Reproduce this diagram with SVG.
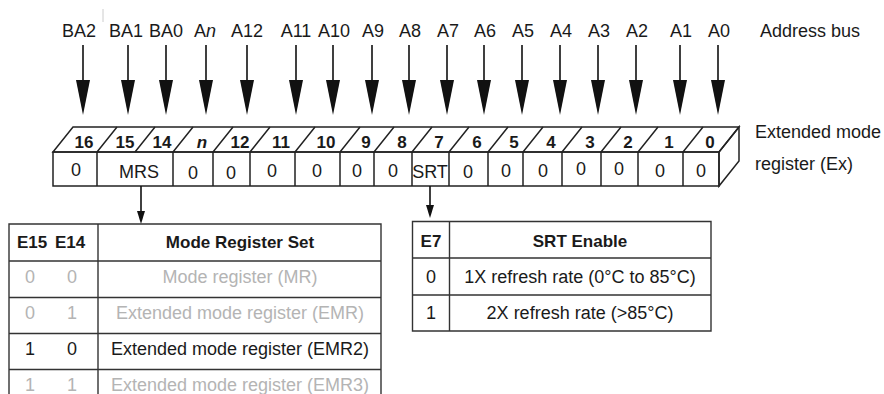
<svg xmlns="http://www.w3.org/2000/svg" width="884" height="394" viewBox="0 0 884 394">
<style>
text{font-family:"Liberation Sans",Arial,sans-serif;fill:#1a1a1a}
.lbl{font-size:18px;text-anchor:middle}
.lblL{font-size:18px}
.top{font-size:17px;font-weight:bold;text-anchor:middle}
.cell{font-size:18px;text-anchor:middle}
.tbl{font-size:18px;text-anchor:middle}
.hdr{font-size:17px;font-weight:bold;text-anchor:middle}
.dim{fill:#b4b4b4}
.ln{stroke:#222;stroke-width:1.5;fill:none}
.tl{stroke:#333;stroke-width:1.4;fill:none}
.shaft{stroke:#111;stroke-width:1.6}
.head{fill:#111}
</style>
<rect width="884" height="394" fill="#fff"/>

<g id="address-labels">
<text class="lbl" x="79" y="37">BA2</text>
<line x1="103" y1="9" x2="103" y2="22" stroke="#ccc" stroke-width="1"/>
<text class="lbl" x="126" y="37">BA1</text>
<text class="lbl" x="166" y="37">BA0</text>
<text class="lbl" x="205" y="37">A<tspan font-style="italic">n</tspan></text>
<text class="lbl" x="247" y="37">A12</text>
<text class="lbl" x="296" y="37">A11</text>
<text class="lbl" x="334" y="37">A10</text>
<text class="lbl" x="373" y="37">A9</text>
<text class="lbl" x="410" y="37">A8</text>
<text class="lbl" x="448" y="37">A7</text>
<text class="lbl" x="485" y="37">A6</text>
<text class="lbl" x="523" y="37">A5</text>
<text class="lbl" x="561" y="37">A4</text>
<text class="lbl" x="599" y="37">A3</text>
<text class="lbl" x="637" y="37">A2</text>
<text class="lbl" x="681" y="37">A1</text>
<text class="lbl" x="719" y="37">A0</text>
<text class="lblL" x="760" y="37">Address bus</text>
</g>

<g id="register">
<polygon class="ln" points="53,152 73,127 739,127 719,152"/>
<polygon class="ln" points="719,152 739,127 739,161 719,186"/>
<rect class="ln" x="53" y="152" width="666" height="34"/>
<g class="ln">
<path d="M97,152 L117,127 M135,152 L155,127 M173,152 L193,127 M213,152 L233,127 M250,152 L270,127 M295,152 L315,127 M340,152 L360,127 M374,152 L394,127 M412,152 L432,127 M449,152 L469,127 M488,152 L508,127 M523,152 L543,127 M562,152 L582,127 M601,152 L621,127 M638,152 L658,127 M683,152 L703,127"/>
<path d="M97,152 V186 M173,152 V186 M213,152 V186 M250,152 V186 M295,152 V186 M340,152 V186 M374,152 V186 M412,152 V186 M449,152 V186 M488,152 V186 M523,152 V186 M562,152 V186 M601,152 V186 M638,152 V186 M683,152 V186"/>
</g>
<g id="bit-numbers">
<text class="top" x="84" y="148">16</text>
<text class="top" x="125" y="148">15</text>
<text class="top" x="162" y="148">14</text>
<text class="top" x="202" y="148" font-style="italic">n</text>
<text class="top" x="240" y="148">12</text>
<text class="top" x="281" y="148">11</text>
<text class="top" x="326" y="148">10</text>
<text class="top" x="366" y="148">9</text>
<text class="top" x="402" y="148">8</text>
<text class="top" x="439" y="148">7</text>
<text class="top" x="477" y="148">6</text>
<text class="top" x="514" y="148">5</text>
<text class="top" x="551" y="148">4</text>
<text class="top" x="590" y="148">3</text>
<text class="top" x="628" y="148">2</text>
<text class="top" x="669" y="148">1</text>
<text class="top" x="710" y="148">0</text>
</g>
<g id="bit-values">
<text class="cell" x="76" y="176">0</text>
<text class="cell" x="139" y="178">MRS</text>
<text class="cell" x="193" y="179">0</text>
<text class="cell" x="231" y="179">0</text>
<text class="cell" x="272" y="177">0</text>
<text class="cell" x="317" y="177">0</text>
<text class="cell" x="357" y="177">0</text>
<text class="cell" x="393" y="177">0</text>
<text class="cell" x="430" y="178">SRT</text>
<text class="cell" x="468" y="178">0</text>
<text class="cell" x="506" y="177">0</text>
<text class="cell" x="543" y="177">0</text>
<text class="cell" x="581" y="175">0</text>
<text class="cell" x="619" y="175">0</text>
<text class="cell" x="660" y="177">0</text>
<text class="cell" x="701" y="177">0</text>
</g>
</g>

<g id="register-caption">
<text class="lblL" x="755" y="138">Extended mode</text>
<text class="lblL" x="755" y="170">register (Ex)</text>
</g>

<g id="connectors">
<g class="shaft">
<path d="M83,45 V82 M128,45 V82 M166,45 V82 M206,45 V82 M247,45 V82 M296,45 V82 M333,45 V82 M372,45 V82 M409,45 V82 M447,45 V82 M484,45 V82 M522,45 V82 M560,45 V82 M598,45 V82 M636,45 V82 M680,45 V82 M718,45 V82"/>
</g>
<g class="head">
<polygon points="76,80 90,80 83,115"/>
<polygon points="121,80 135,80 128,115"/>
<polygon points="159,80 173,80 166,115"/>
<polygon points="199,80 213,80 206,115"/>
<polygon points="240,80 254,80 247,115"/>
<polygon points="289,80 303,80 296,115"/>
<polygon points="326,80 340,80 333,115"/>
<polygon points="365,80 379,80 372,115"/>
<polygon points="402,80 416,80 409,115"/>
<polygon points="440,80 454,80 447,115"/>
<polygon points="477,80 491,80 484,115"/>
<polygon points="515,80 529,80 522,115"/>
<polygon points="553,80 567,80 560,115"/>
<polygon points="591,80 605,80 598,115"/>
<polygon points="629,80 643,80 636,115"/>
<polygon points="673,80 687,80 680,115"/>
<polygon points="711,80 725,80 718,115"/>
</g>
<line x1="141" y1="186" x2="141" y2="212" class="shaft" stroke-width="1.3"/>
<polygon class="head" points="137,211 145,211 141,224"/>
<line x1="430" y1="186" x2="430" y2="206" class="shaft" stroke-width="1.3"/>
<polygon class="head" points="426,205 434,205 430,218"/>
</g>

<g id="mode-register-set-table">
<path class="tl" d="M9,394 V224 H381 V394 M98,224 V394 M9,261 H381 M9,297.5 H381 M9,333.5 H381 M9,369.5 H381"/>
<text class="hdr" x="32" y="248">E15</text>
<text class="hdr" x="70" y="248">E14</text>
<text class="hdr" x="240" y="248">Mode Register Set</text>
<text class="tbl dim" x="30" y="283">0</text>
<text class="tbl dim" x="72" y="283">0</text>
<text class="tbl dim" x="240" y="283">Mode register (MR)</text>
<text class="tbl dim" x="30" y="319">0</text>
<text class="tbl dim" x="72" y="319">1</text>
<text class="tbl dim" x="240" y="319">Extended mode register (EMR)</text>
<text class="tbl" x="30" y="355">1</text>
<text class="tbl" x="72" y="355">0</text>
<text class="tbl" x="240" y="355">Extended mode register (EMR2)</text>
<text class="tbl dim" x="30" y="391">1</text>
<text class="tbl dim" x="72" y="391">1</text>
<text class="tbl dim" x="240" y="391">Extended mode register (EMR3)</text>
</g>

<g id="srt-enable-table">
<path class="tl" d="M412.5,221.5 H711 V331 H412.5 Z M449.5,221.5 V331 M412.5,258 H711 M412.5,295 H711"/>
<text class="hdr" x="431" y="247">E7</text>
<text class="hdr" x="580" y="247">SRT Enable</text>
<text class="tbl" x="431" y="283">0</text>
<text class="tbl" x="580" y="283">1X refresh rate (0°C to 85°C)</text>
<text class="tbl" x="431" y="319">1</text>
<text class="tbl" x="580" y="319">2X refresh rate (&gt;85°C)</text>
</g>
</svg>
